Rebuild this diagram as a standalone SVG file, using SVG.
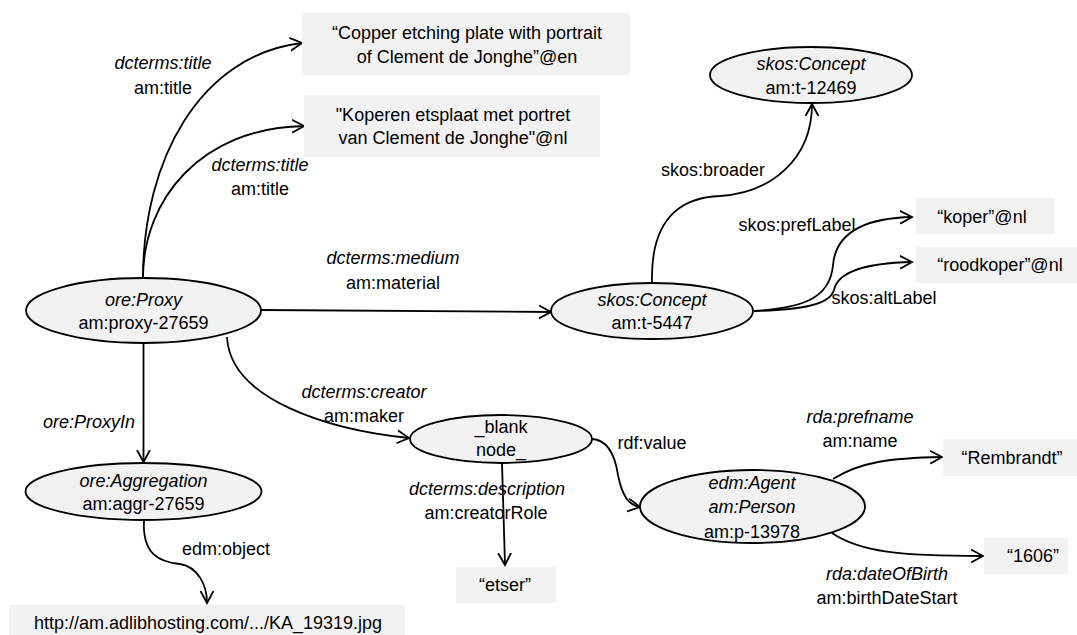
<svg xmlns="http://www.w3.org/2000/svg" width="1077" height="635" viewBox="0 0 1077 635">
<defs>
<marker id="arr" markerUnits="userSpaceOnUse" markerWidth="14" markerHeight="16" refX="12" refY="7" orient="auto" viewBox="0 0 14 14">
<path d="M0,0.5 L12,7 L0,13.5" fill="none" stroke="#000" stroke-width="1.8"/>
</marker>
</defs>
<style>
text{font-family:"Liberation Sans",Arial,sans-serif;font-size:18px;fill:#000;text-anchor:middle}
.i{font-style:italic}
.node ellipse{fill:#f2f2f2;stroke:#000;stroke-width:1.8}
.lit rect{fill:#f2f2f2;stroke:none}
#edges path{fill:none;stroke:#000;stroke-width:1.8;marker-end:url(#arr)}
</style>
<rect width="1077" height="635" fill="#fff"/>
<g id="edges">
<path d="M143,278 C143,160 200,55 302,43"/>
<path d="M143,278 C143,200 200,128 304,126"/>
<path d="M261,310 L551,312"/>
<path d="M143.5,343 L143.5,462"/>
<path d="M227,337 C230,400 330,430 409,438"/>
<path d="M144,520 C142,555 160,562 180,564 C198,567 207,585 207,603"/>
<path d="M652,283 C650,210 690,197 720,196 C770,193 812,160 812,104"/>
<path d="M754,311 C800,308 830,300 833,265 C836,230 870,218 912,217"/>
<path d="M754,311 C800,310 830,305 834,290 C838,270 870,263 912,262"/>
<path d="M502,463 L505,565"/>
<path d="M592,439 C608,440 615,455 618,475 C622,495 628,505 640,507"/>
<path d="M833,479 C860,462 890,458 942,457"/>
<path d="M832,533 C860,552 900,556 983,556"/>
</g>
<g id="edge-labels">
<text x="163" y="69" class="i">dcterms:title</text>
<text x="163" y="94">am:title</text>
<text x="260" y="171" class="i">dcterms:title</text>
<text x="260" y="195">am:title</text>
<text x="393" y="264" class="i">dcterms:medium</text>
<text x="393" y="289">am:material</text>
<text x="89" y="428" class="i">ore:ProxyIn</text>
<text x="226" y="555">edm:object</text>
<text x="364" y="398" class="i">dcterms:creator</text>
<text x="364" y="422">am:maker</text>
<text x="487" y="495" class="i">dcterms:description</text>
<text x="486" y="519">am:creatorRole</text>
<text x="652" y="449">rdf:value</text>
<text x="860" y="423" class="i">rda:prefname</text>
<text x="860" y="447">am:name</text>
<text x="887" y="580" class="i">rda:dateOfBirth</text>
<text x="887" y="604">am:birthDateStart</text>
<text x="713" y="176">skos:broader</text>
<text x="797" y="231">skos:prefLabel</text>
<text x="884" y="304">skos:altLabel</text>
</g>
<g id="proxy" class="node">
<ellipse cx="143.5" cy="310.5" rx="117.5" ry="32.5"/>
<text x="143.5" y="306" class="i">ore:Proxy</text>
<text x="143.5" y="329">am:proxy-27659</text>
</g>
<g id="aggregation" class="node">
<ellipse cx="143.5" cy="491.5" rx="118" ry="28.5"/>
<text x="143.5" y="487" class="i">ore:Aggregation</text>
<text x="143.5" y="510">am:aggr-27659</text>
</g>
<g id="concept-5447" class="node">
<ellipse cx="652" cy="311" rx="101" ry="28"/>
<text x="652" y="306" class="i">skos:Concept</text>
<text x="652" y="329">am:t-5447</text>
</g>
<g id="concept-12469" class="node">
<ellipse cx="811" cy="75" rx="101" ry="28"/>
<text x="811" y="70" class="i">skos:Concept</text>
<text x="811" y="94">am:t-12469</text>
</g>
<g id="blank" class="node">
<ellipse cx="501" cy="439" rx="91" ry="24"/>
<text x="501" y="433">_blank</text>
<text x="501" y="456">node_</text>
</g>
<g id="agent" class="node">
<ellipse cx="752.5" cy="506.5" rx="112.5" ry="36.5"/>
<text x="752" y="489" class="i">edm:Agent</text>
<text x="752" y="513" class="i">am:Person</text>
<text x="752" y="538">am:p-13978</text>
</g>
<g id="title-en" class="lit">
<rect x="302" y="13" width="328" height="62"/>
<text x="467" y="39">“Copper etching plate with portrait</text>
<text x="467" y="63">of Clement de Jonghe”@en</text>
</g>
<g id="title-nl" class="lit">
<rect x="304" y="95" width="296" height="62"/>
<text x="453" y="121">"Koperen etsplaat met portret</text>
<text x="453" y="144">van Clement de Jonghe"@nl</text>
</g>
<g id="koper" class="lit">
<rect x="916" y="198" width="138" height="36"/>
<text x="982" y="223">“koper”@nl</text>
</g>
<g id="roodkoper" class="lit">
<rect x="916" y="247" width="161" height="36"/>
<text x="1000" y="271">“roodkoper”@nl</text>
</g>
<g id="rembrandt" class="lit">
<rect x="943" y="439" width="134" height="37"/>
<text x="1012" y="464">“Rembrandt”</text>
</g>
<g id="year" class="lit">
<rect x="984" y="538" width="84" height="36"/>
<text x="1033" y="562">“1606”</text>
</g>
<g id="etser" class="lit">
<rect x="456" y="567" width="100" height="36"/>
<text x="505" y="591">“etser”</text>
</g>
<g id="url" class="lit">
<rect x="9" y="605" width="396" height="35"/>
<text x="208" y="629">http://am.adlibhosting.com/.../KA_19319.jpg</text>
</g>
</svg>
